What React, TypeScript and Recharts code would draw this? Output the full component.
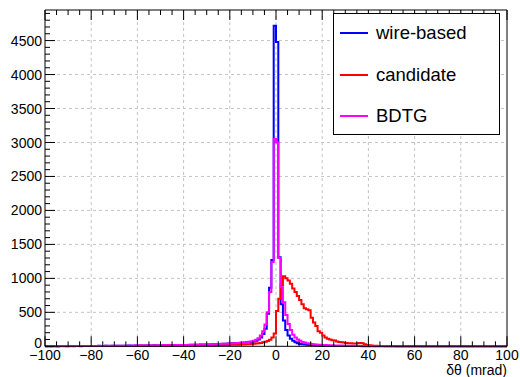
import { CartesianGrid, Legend, Line, LineChart, XAxis, YAxis } from "recharts";

// bin lower edges, 1 mrad bins from -100 to 99
const binEdges = Array.from({ length: 200 }, (_, i) => -100 + i);

const wireBased = [
  2, 3, 2, 4, 3, 2, 5, 3, 4, 3,
  4, 3, 5, 4, 3, 6, 4, 5, 4, 6,
  5, 6, 4, 7, 5, 6, 8, 5, 7, 6,
  7, 8, 6, 9, 7, 8, 10, 8, 9, 11,
  10, 12, 9, 11, 13, 10, 12, 14, 11, 13,
  14, 12, 15, 16, 13, 17, 15, 18, 16, 19,
  18, 20, 19, 22, 21, 23, 22, 25, 24, 27,
  26, 28, 30, 29, 32, 34, 33, 36, 38, 40,
  42, 44, 46, 48, 50, 52, 55, 58, 62, 66,
  70, 80, 100, 130, 180, 260, 480, 860, 1270, 4720,
  4480, 1310, 620, 380, 240, 160, 110, 80, 60, 45,
  35, 30, 26, 22, 19, 16, 14, 12, 10, 9,
  8, 7, 7, 6, 6, 5, 5, 5, 4, 4,
  4, 4, 3, 3, 3, 3, 3, 2, 2, 2,
  2, 2, 2, 2, 1, 2, 1, 1, 2, 1,
  1, 1, 2, 1, 1, 1, 0, 1, 1, 0,
  1, 0, 1, 1, 0, 1, 0, 0, 1, 0,
  0, 1, 0, 0, 1, 0, 0, 0, 1, 0,
  0, 0, 1, 0, 0, 0, 0, 1, 0, 0,
  0, 0, 0, 1, 0, 0, 0, 0, 0, 0,
];

const candidate = [
  1, 2, 1, 2, 2, 1, 2, 3, 2, 2,
  2, 3, 2, 3, 3, 2, 3, 4, 3, 3,
  3, 4, 3, 4, 4, 3, 5, 4, 4, 5,
  4, 5, 5, 6, 5, 5, 6, 6, 5, 6,
  6, 7, 6, 7, 7, 8, 7, 8, 8, 9,
  8, 9, 9, 10, 9, 10, 11, 10, 11, 12,
  11, 12, 12, 13, 13, 14, 13, 15, 14, 15,
  15, 16, 16, 17, 17, 18, 18, 19, 20, 20,
  21, 22, 23, 24, 25, 27, 28, 30, 32, 34,
  36, 40, 45, 50, 58, 66, 78, 95, 130, 190,
  520, 700, 900, 1030, 1000, 970, 920, 850, 800, 740,
  680, 620, 560, 545, 530, 420, 350, 300, 220, 200,
  160, 130, 110, 100, 90, 85, 70, 65, 60, 55,
  50, 45, 45, 40, 40, 45, 50, 45, 30, 20,
  15, 10, 8, 7, 6, 5, 5, 4, 4, 3,
  3, 3, 2, 3, 2, 2, 2, 1, 2, 1,
  1, 1, 2, 1, 1, 1, 0, 1, 1, 0,
  1, 0, 1, 0, 1, 0, 0, 1, 0, 0,
  0, 1, 0, 0, 0, 1, 0, 0, 0, 0,
  0, 0, 1, 0, 0, 0, 0, 0, 0, 0,
];

const bdtg = [
  2, 2, 3, 2, 3, 2, 4, 3, 3, 2,
  3, 4, 3, 4, 3, 5, 4, 4, 5, 4,
  5, 4, 6, 5, 6, 5, 7, 6, 6, 7,
  6, 7, 8, 7, 8, 9, 8, 9, 10, 9,
  10, 11, 10, 12, 11, 12, 13, 12, 14, 13,
  14, 15, 14, 16, 15, 17, 16, 18, 17, 19,
  18, 20, 21, 20, 22, 23, 24, 25, 26, 27,
  28, 29, 30, 31, 33, 34, 36, 37, 39, 40,
  42, 44, 46, 48, 51, 54, 57, 61, 66, 72,
  80, 95, 120, 160, 220, 320, 500, 800, 1240, 3050,
  3000, 1300, 870, 650, 460, 330, 240, 170, 130, 100,
  80, 65, 55, 45, 40, 35, 30, 27, 24, 22,
  20, 18, 16, 15, 14, 13, 12, 11, 10, 9,
  9, 8, 8, 7, 7, 6, 6, 5, 5, 5,
  4, 4, 4, 3, 3, 3, 3, 2, 2, 2,
  2, 2, 2, 2, 1, 2, 1, 1, 1, 1,
  1, 1, 1, 0, 1, 1, 0, 1, 0, 1,
  0, 1, 0, 1, 0, 0, 1, 0, 0, 0,
  1, 0, 0, 0, 1, 0, 0, 0, 0, 1,
  0, 0, 0, 0, 1, 0, 0, 0, 0, 0,
];

const xTicks = Array.from({ length: 41 }, (_, i) => -100 + i * 5);
const yTicks = Array.from({ length: 50 }, (_, i) => i * 100);
const xGrid = [-80, -60, -40, -20, 0, 20, 40, 60, 80];
const yGrid = [500, 1000, 1500, 2000, 2500, 3000, 3500, 4000, 4500];

const series = [
  { key: "wire", name: "wire-based", color: "#0000ff" },
  { key: "cand", name: "candidate", color: "#ff0000" },
  { key: "bdtg", name: "BDTG", color: "#ff00ff" },
];

// stepAfter needs a closing point at the upper edge of the last bin
const data = [
  ...binEdges.map((x, i) => ({ x, wire: wireBased[i], cand: candidate[i], bdtg: bdtg[i] })),
  { x: 100, wire: wireBased[199], cand: candidate[199], bdtg: bdtg[199] },
];

const FONT = "'Liberation Sans', Arial, Helvetica, sans-serif";

const fmt = (v: number) => (v < 0 ? "\u2212" + Math.abs(v) : String(v));

const BottomTick = ({ x, y, payload }: any) => {
  const major = payload.value % 20 === 0;
  return (
    <g>
      <line x1={x} x2={x} y1={y} y2={y - (major ? 10 : 5)} stroke="#000" />
      {major && (
        <text x={x} y={y + 14} textAnchor="middle" fontSize={14} fontFamily={FONT} fill="#000">
          {fmt(payload.value)}
        </text>
      )}
    </g>
  );
};

const TopTick = ({ x, y, payload }: any) => {
  const major = payload.value % 20 === 0;
  return <line x1={x} x2={x} y1={y} y2={y + (major ? 10 : 5)} stroke="#000" />;
};

const LeftTick = ({ x, y, payload }: any) => {
  const major = payload.value % 500 === 0;
  // the zero label sits a little higher, as in ROOT
  const lift = payload.value === 0 ? -3 : 0;
  return (
    <g>
      <line x1={x} x2={x + (major ? 10 : 5)} y1={y} y2={y} stroke="#000" />
      {major && (
        <text x={x - 3} y={y + lift} dy="0.36em" textAnchor="end" fontSize={14} fontFamily={FONT} fill="#000">
          {payload.value}
        </text>
      )}
    </g>
  );
};

const RightTick = ({ x, y, payload }: any) => {
  const major = payload.value % 500 === 0;
  return <line x1={x} x2={x - (major ? 10 : 5)} y1={y} y2={y} stroke="#000" />;
};

const LegendBox = () => (
  <div
    style={{
      width: 167,
      height: 122,
      boxSizing: "border-box",
      border: "1px solid #000",
      background: "#fff",
      position: "relative",
      fontFamily: FONT,
      fontSize: 18.5,
    }}
  >
    {series.map((s, i) => (
      <div
        key={s.key}
        style={{ position: "absolute", left: 6, top: 7 + i * 41.5, height: 24, display: "flex", alignItems: "center" }}
      >
        <div style={{ width: 28, height: 2, background: s.color, marginRight: 8 }} />
        <span style={{ color: "#000", lineHeight: "24px" }}>{s.name}</span>
      </div>
    ))}
  </div>
);

export default function App() {
  return (
    <div style={{ position: "absolute", left: 0, top: 0, width: 520, height: 377, background: "#fff" }}>
      <LineChart width={520} height={377} data={data} margin={{ top: 9, right: 12, bottom: 29.7, left: 44 }}>
        <CartesianGrid
          stroke="#c4c4c4"
          strokeDasharray="3 3"
          horizontalValues={yGrid}
          verticalValues={xGrid}
        />
        <XAxis
          type="number"
          dataKey="x"
          domain={[-100, 100]}
          ticks={xTicks}
          interval={0}
          height={1}
          tickSize={0}
          tickMargin={0}
          tickLine={false}
          axisLine={{ stroke: "#000" }}
          tick={(p: any) => <BottomTick {...p} />}
          label={(p: any) => (
            <text
              x={p.viewBox.x + p.viewBox.width}
              y={p.viewBox.y + 29}
              textAnchor="end"
              fontSize={14}
              fontFamily={FONT}
              fill="#000"
            >
              δθ (mrad)
            </text>
          )}
        />
        <XAxis
          xAxisId="top"
          orientation="top"
          type="number"
          dataKey="x"
          domain={[-100, 100]}
          ticks={xTicks}
          interval={0}
          height={1}
          tickSize={0}
          tickMargin={0}
          tickLine={false}
          axisLine={{ stroke: "#000" }}
          tick={(p: any) => <TopTick {...p} />}
        />
        <YAxis
          type="number"
          domain={[0, 4950]}
          ticks={yTicks}
          interval={0}
          width={1}
          tickSize={0}
          tickMargin={0}
          tickLine={false}
          axisLine={{ stroke: "#000" }}
          tick={(p: any) => <LeftTick {...p} />}
        />
        <YAxis
          yAxisId="right"
          orientation="right"
          type="number"
          domain={[0, 4950]}
          ticks={yTicks}
          interval={0}
          width={1}
          tickSize={0}
          tickMargin={0}
          tickLine={false}
          axisLine={{ stroke: "#000" }}
          tick={(p: any) => <RightTick {...p} />}
        />
        <Legend
          layout="horizontal"
          verticalAlign="middle"
          align="center"
          wrapperStyle={{ left: 333, top: 13, width: 167, height: 122 }}
          content={() => <LegendBox />}
        />
        {series.map((s) => (
          <Line
            key={s.key}
            dataKey={s.key}
            name={s.name}
            type="stepAfter"
            stroke={s.color}
            strokeWidth={2}
            dot={false}
            activeDot={false}
            isAnimationActive={false}
          />
        ))}
      </LineChart>
    </div>
  );
}
